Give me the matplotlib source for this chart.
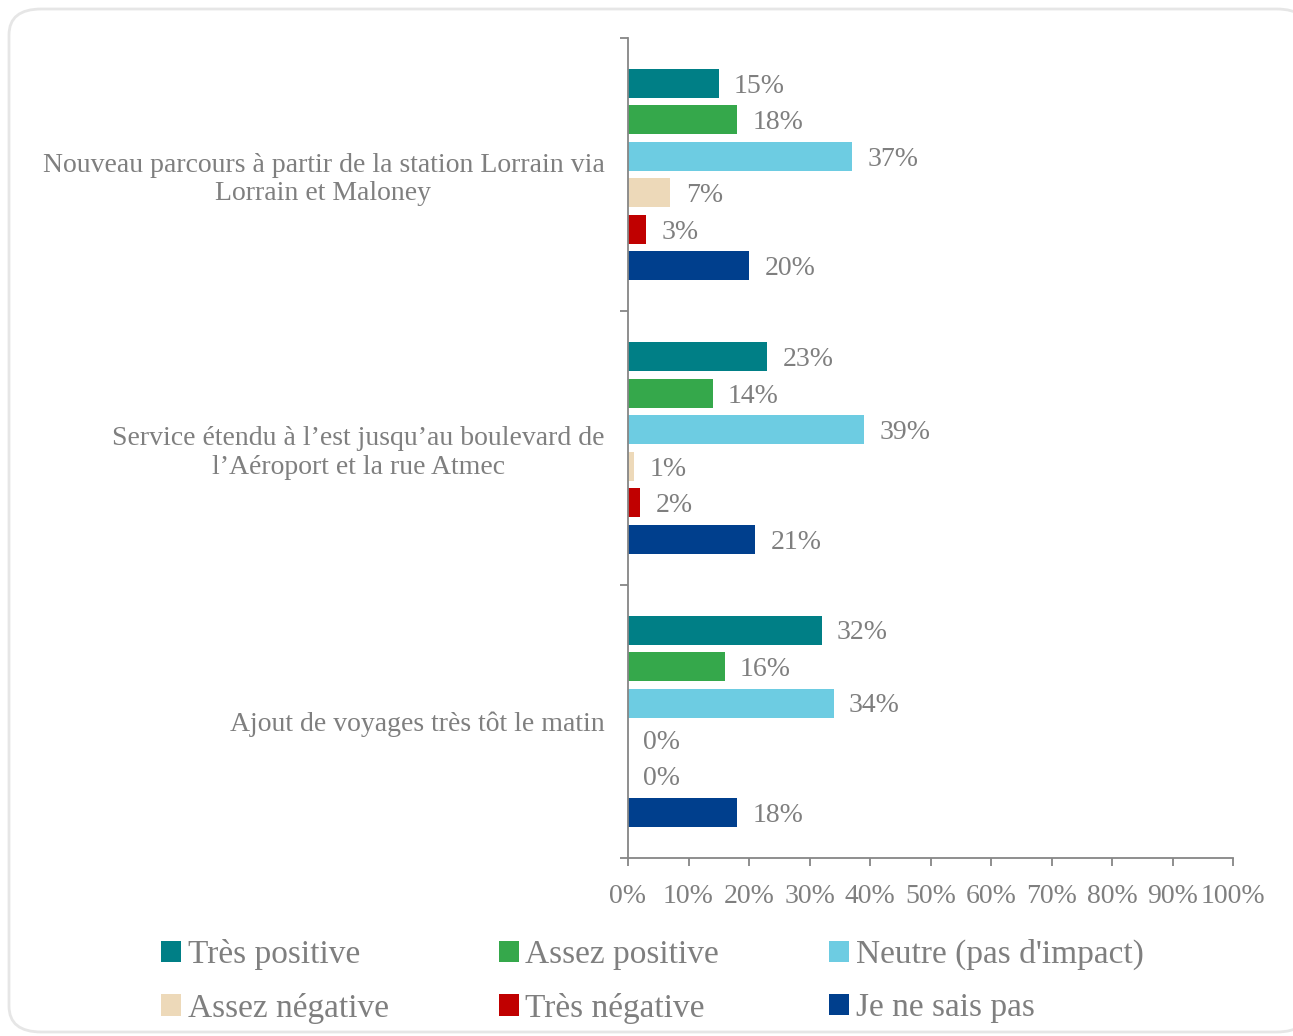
import numpy as np
import matplotlib.pyplot as plt
from matplotlib.patches import FancyBboxPatch

plt.rcParams['font.family'] = ['Liberation Serif', 'DejaVu Serif']

categories = [
    "Nouveau parcours à partir de la station Lorrain via\nLorrain et Maloney",
    "Service étendu à l\u2019est jusqu\u2019au boulevard de\nl\u2019Aéroport et la rue Atmec",
    "Ajout de voyages très tôt le matin",
]
series = ["Très positive", "Assez positive", "Neutre (pas d'impact)",
          "Assez négative", "Très négative", "Je ne sais pas"]
colors = ["#007F86", "#35A84B", "#6DCCE2", "#EDD9B9", "#C00000", "#003F8D"]

tres_positive = [15, 23, 32]
assez_positive = [18, 14, 16]
neutre = [37, 39, 34]
assez_negative = [7, 1, 0]
tres_negative = [3, 2, 0]
ne_sais_pas = [20, 21, 18]
values = [tres_positive, assez_positive, neutre, assez_negative, tres_negative, ne_sais_pas]

grey = "#7F7F7F"
fig = plt.figure(figsize=(12.93, 10.36), dpi=100)

# light rounded frame around the chart
frame = FancyBboxPatch((9 / 1293, 4 / 1036), 1300 / 1293, 1023 / 1036,
                       boxstyle="round,pad=0,rounding_size=0.025",
                       transform=fig.transFigure, facecolor="white",
                       edgecolor="#E6E6E6", linewidth=2, zorder=-10)
fig.patches.append(frame)

ax = fig.add_axes([628 / 1293, 1 - 858 / 1036, 605 / 1293, 820 / 1036])
ax.set_zorder(2)
ax.patch.set_alpha(0)

y = np.arange(len(categories))
step = 0.1336
height = 0.106
for i, (name, vals, c) in enumerate(zip(series, values, colors)):
    pos = y + (i - 2.5) * step
    ax.barh(pos, vals, height=height, color=c, label=name)
    # value labels just right of each bar
    for p, v in zip(pos, vals):
        ax.annotate(f"{v}%", (v, p), xytext=(11, -2), textcoords="offset points",
                    ha="left", va="center", fontsize=20, color=grey)

ax.set_xlim(0, 100)
ax.set_ylim(2.5, -0.5)
ax.set_xticks(np.arange(0, 101, 10))
ax.set_xticklabels([f"{t}%" for t in range(0, 101, 10)], fontsize=20, color=grey)
ax.set_yticks(y)
ax.set_yticklabels(categories, fontsize=20, color=grey, multialignment="center")
ax.set_yticks([-0.5, 0.5, 1.5, 2.5], minor=True)
ax.tick_params(axis="y", which="major", length=0, pad=17)
ax.tick_params(axis="y", which="minor", length=6, width=1.3, color="#868686")
ax.tick_params(axis="x", length=6, width=1.3, color="#868686", pad=13)

for s in ["top", "right"]:
    ax.spines[s].set_visible(False)
for s in ["left", "bottom"]:
    ax.spines[s].set_color("#868686")
    ax.spines[s].set_linewidth(1.3)

# legend filled row by row like the original
handles, labels = ax.get_legend_handles_labels()
order = [0, 3, 1, 4, 2, 5]
fig.legend([handles[k] for k in order], [labels[k] for k in order],
           loc="upper left", bbox_to_anchor=(131 / 1293, 1 - 909 / 1036),
           ncol=3, frameon=False, fontsize=24, labelcolor=grey,
           handlelength=0.6, handleheight=0.6, handletextpad=0.2,
           columnspacing=3.3, labelspacing=0.68)

fig.savefig("out.png", dpi=100)
